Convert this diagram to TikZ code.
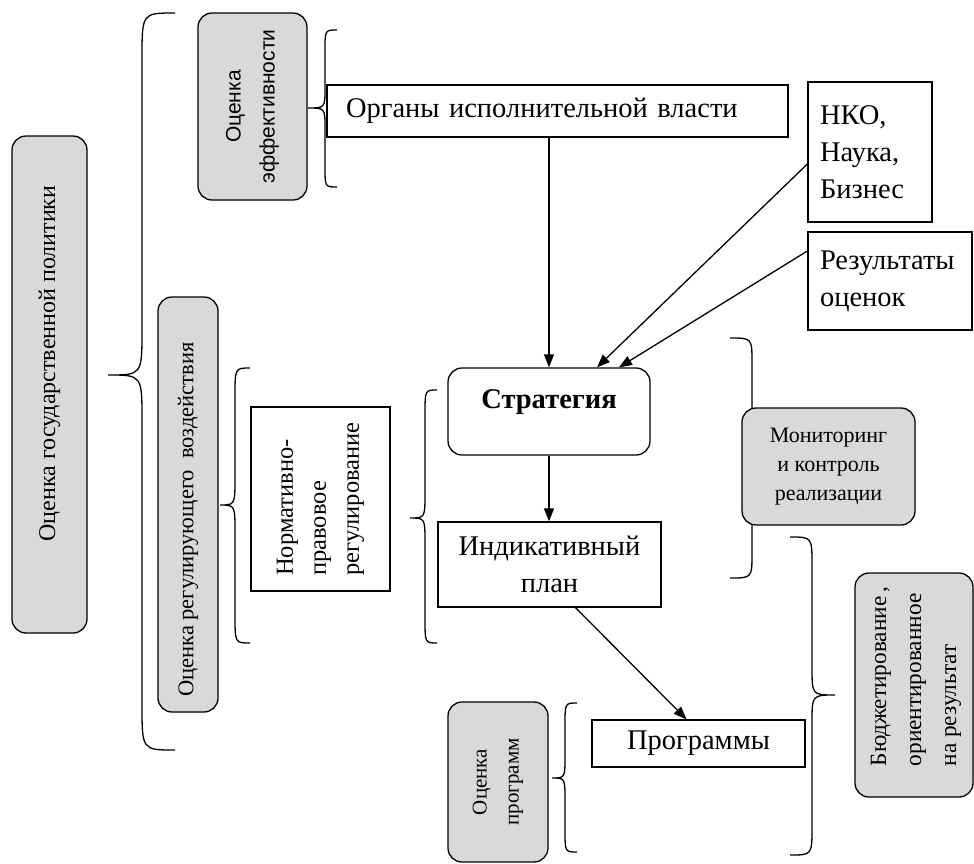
\documentclass[tikz,border=0pt]{standalone}
\usepackage{fontspec}
\setmainfont{Liberation Serif}
\newfontfamily\sansf{Liberation Sans}
\usetikzlibrary{arrows.meta}
\definecolor{boxgray}{HTML}{D9D9D9}
\newcommand\mybrace[7]{\draw[brc] (#1,#4) .. controls (#2,#4) .. (#2,#4+#7) -- (#2,#5-#7) .. controls (#2,#5) .. (#3,#5) .. controls (#2,#5) .. (#2,#5+#7) -- (#2,#6-#7) .. controls (#2,#6) .. (#1,#6);}
\begin{document}
\begin{tikzpicture}[x=1pt,y=-1pt,
  box/.style={draw, line width=1.3pt, inner sep=0pt, fill=white, font=\fontsize{28.5}{37}\selectfont},
  gbox/.style={box, fill=boxgray, rounded corners=14pt},
  arr/.style={-{Triangle[length=13pt,width=10pt]}, line width=1.3pt},
  brc/.style={line width=1.3pt}]
\path[use as bounding box] (0,0) rectangle (974,863);
% braces
\mybrace{175}{142}{108}{13}{375}{750}{45}
\mybrace{337}{325}{308}{30}{108}{187}{20}
\mybrace{250}{235}{220}{368}{505}{643}{28}
\mybrace{437}{425}{410}{390}{518}{643}{25}
\mybrace{730}{752}{770}{338}{460}{578}{25}
\mybrace{790}{812}{835}{537}{695}{855}{28}
\mybrace{577}{565}{552}{703}{778}{852}{22}
% nodes
\node[gbox, rotate=90, minimum width=497pt, minimum height=75pt, font=\fontsize{24}{30}\selectfont] (gp) at (49.5,384.5) {\hspace*{42pt}Оценка государственной политики};
\node[gbox, rotate=90, minimum width=187pt, minimum height=109pt, align=center, font=\sansf\fontsize{21}{34}\selectfont] (eff) at (252.5,106.5) {Оценка\\эффективности};
\node[box, text width=423pt, inner xsep=19pt, minimum height=52pt, align=left] (org) at (557.5,111) {Органы исполнительной власти};
\node[box, text width=100pt, inner xsep=12pt, minimum height=140pt, align=left] (nko) at (870,152) {НКО,\\Наука,\\Бизнес};
\node[box, text width=140pt, inner xsep=12pt, minimum height=98pt, align=left] (res) at (890,281) {Результаты\\оценок};
\node[box, rounded corners=14pt, minimum width=202pt, text height=40pt, text depth=47pt, font=\bfseries\fontsize{28.5}{37}\selectfont] (str) at (549,411.5) {Стратегия};
\node[box, minimum width=223pt, minimum height=85pt, align=center] (ind) at (549.5,564.5) {Индикативный\\план};
\node[box, minimum width=213pt, minimum height=47pt] (prog) at (698.5,743.5) {Программы};
\node[box, rotate=90, minimum width=184pt, minimum height=139pt, align=left, font=\fontsize{24.5}{33}\selectfont] (norm) at (320.5,499) {Нормативно-\\правовое\\регулирование};
\node[gbox, rotate=90, minimum width=415pt, minimum height=60pt, font=\fontsize{22.5}{28}\selectfont] (reg) at (188,504.5) {Оценка регулирующего\ \ воздействия\hspace*{30pt}};
\node[gbox, minimum width=173pt, minimum height=117pt, align=center, font=\fontsize{22}{29}\selectfont] (mon) at (828.5,466.5) {Мониторинг\\и контроль\\реализации};
\node[gbox, rotate=90, minimum width=224pt, minimum height=118pt, font=\fontsize{23.3}{35}\selectfont] (bud) at (914,685) {\hspace*{17pt}\begin{tabular}{@{}l@{}}Бюджетирование\,,\\ориентированное\\на результат\end{tabular}};
\node[gbox, rotate=90, minimum width=160pt, minimum height=100pt, align=center, font=\fontsize{21}{32}\selectfont] (op) at (498,782) {Оценка\\программ};
% arrows
\draw[arr] (org.south -| str.north) -- (str.north);
\draw[arr] ([yshift=-12pt]nko.west) -- ([xshift=48pt]str.north);
\draw[arr] ([yshift=30pt]res.west) -- ([xshift=70pt]str.north);
\draw[arr] (str.south) -- (str.south |- ind.north);
\draw[arr] ([xshift=26pt]ind.south) -- ([xshift=-12pt]prog.north);
\end{tikzpicture}
\end{document}
